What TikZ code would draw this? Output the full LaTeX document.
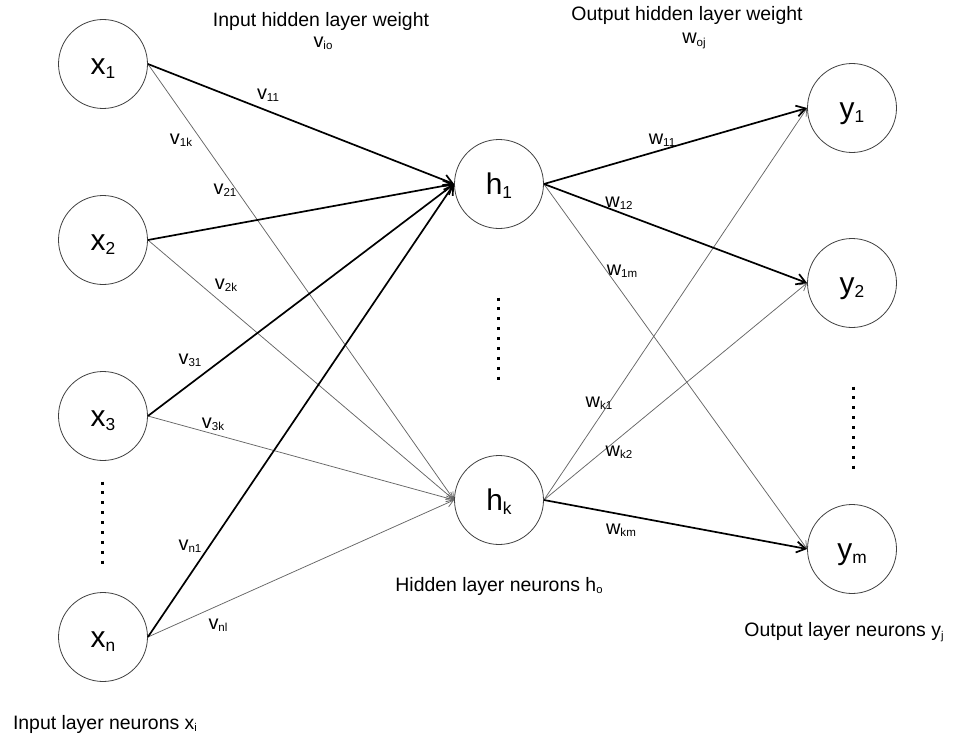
\documentclass[tikz,border=0pt]{standalone}
\usepackage{fontspec}
\setmainfont{Liberation Sans}
\usepackage{graphicx}
\usetikzlibrary{arrows.meta}

\newcommand{\sbs}[1]{\raisebox{-0.12em}{\scalebox{0.58}{#1}}}

\tikzset{
  neuron/.style={circle, draw=black!75, line width=0.8bp, minimum size=89bp, inner sep=0pt,
    text height=21bp, text depth=0bp, font=\fontsize{30}{36}\selectfont},
  heavy/.style={line width=1.7bp, -{Straight Barb[length=9bp,width=11bp]}},
  light/.style={line width=0.75bp, draw=black!60, -{Straight Barb[length=7bp,width=8bp]}},
  wlabel/.style={font=\fontsize{20}{24}\selectfont, inner sep=0pt},
  layertext/.style={font=\fontsize{19.5}{23}\selectfont, inner sep=0pt},
  dotline/.style={line width=3bp, dash pattern=on 3bp off 6.9bp}
}

\begin{document}
\begin{tikzpicture}[x=1bp,y=-1bp]
\useasboundingbox (0,0) rectangle (953,737);

% neurons
\node[neuron] (x1) at (103,64) {x\sbs{1}};
\node[neuron] (x2) at (103,240) {x\sbs{2}};
\node[neuron] (x3) at (103,416) {x\sbs{3}};
\node[neuron] (xn) at (103,637) {x\sbs{n}};
\node[neuron] (h1) at (499,184) {h\sbs{1}};
\node[neuron] (hk) at (499,500) {h\sbs{k}};
\node[neuron] (y1) at (852,108) {y\sbs{1}};
\node[neuron] (y2) at (852,283) {y\sbs{2}};
\node[neuron] (ym) at (852,549) {y\sbs{m}};

% dots
\draw[dotline] (102,481.5) -- (102,564);
\draw[dotline] (498,297.5) -- (498,380);
\draw[dotline] (853,386.5) -- (853,469);

% input -> hidden
\draw[light] (x1.east) -- (hk.west);
\draw[light] (x2.east) -- (hk.west);
\draw[light] (x3.east) -- (hk.west);
\draw[light] (xn.east) -- (hk.west);
\draw[heavy] (x1.east) -- (h1.west);
\draw[heavy] (x2.east) -- (h1.west);
\draw[heavy] (x3.east) -- (h1.west);
\draw[heavy] (xn.east) -- (h1.west);

% hidden -> output
\draw[light] (h1.east) -- (ym.west);
\draw[light] (hk.east) -- (y1.west);
\draw[light] (hk.east) -- (y2.west);
\draw[heavy] (h1.east) -- (y1.west);
\draw[heavy] (h1.east) -- (y2.west);
\draw[heavy] (hk.east) -- (ym.west);

% weights
\node[wlabel] (v11) at (268,95) {v\sbs{11}};
\node[wlabel] (v1k) at (181,140) {v\sbs{1k}};
\node[wlabel] (v21) at (225,190) {v\sbs{21}};
\node[wlabel] (v2k) at (226,285) {v\sbs{2k}};
\node[wlabel] (v31) at (190,360) {v\sbs{31}};
\node[wlabel] (v3k) at (213,424) {v\sbs{3k}};
\node[wlabel] (vn1) at (190,546) {v\sbs{n1}};
\node[wlabel] (vnl) at (218,625) {v\sbs{nl}};
\node[wlabel] (w11) at (662,140) {w\sbs{11}};
\node[wlabel] (w12) at (619,203) {w\sbs{12}};
\node[wlabel] (w1m) at (622,271) {w\sbs{1m}};
\node[wlabel] (wk1) at (599,403) {w\sbs{k1}};
\node[wlabel] (wk2) at (619,452) {w\sbs{k2}};
\node[wlabel] (wkm) at (621,530) {w\sbs{km}};

% titles
\node[layertext] (intitle) at (321,21) {Input hidden layer weight};
\node[wlabel] (vio) at (323,43) {v\sbs{io}};
\node[layertext] (outtitle) at (687,15) {Output hidden layer weight};
\node[wlabel] (woj) at (694,41) {w\sbs{oj}};
\node[layertext] (inlayer) at (105,724) {Input layer neurons x\sbs{i}};
\node[layertext] (hidlayer) at (499,586) {Hidden layer neurons h\sbs{o}};
\node[layertext] (outlayer) at (844,632) {Output layer neurons y\sbs{j}};
\end{tikzpicture}
\end{document}
